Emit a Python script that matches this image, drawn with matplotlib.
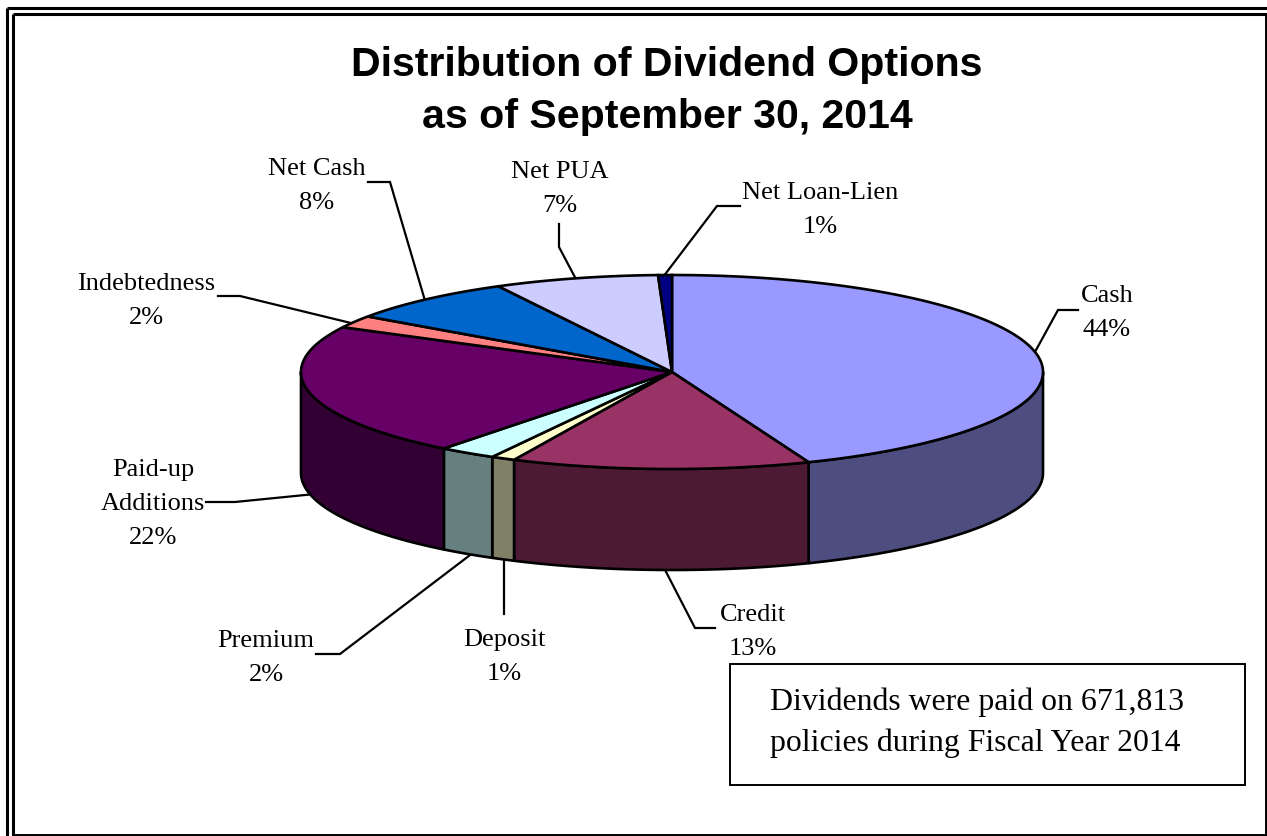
import matplotlib

matplotlib.use("Agg")
import matplotlib.pyplot as plt
from matplotlib.patches import Polygon, Rectangle
import numpy as np

W, H = 1267, 837

TITLE_LINES = ["Distribution of Dividend Options", "as of September 30, 2014"]
NOTE_LINES = ["Dividends were paid on 671,813", "policies during Fiscal Year 2014"]

categories = ["Cash", "Credit", "Deposit", "Premium", "Paid-up\nAdditions",
              "Indebtedness", "Net Cash", "Net PUA", "Net Loan-Lien"]
shares = [44.0, 13.0, 1.05, 2.49, 22.1, 2.06, 7.55, 7.15, 0.6]
colors = ["#9999FF", "#993366", "#FFFFCC", "#CCFFFF", "#660066",
          "#FF8080", "#0066CC", "#CCCCFF", "#000080"]
side_colors = ["#4D4D80", "#4D1A33", "#808066", "#668080", "#330033",
               "#804040", "#003366", "#666680", "#000040"]

# pie geometry in pixels
CX, CY = 672, 373
RX, RY = 371, 97
DEPTH = 101

label_xy = [(1107, 313), (753, 632), (504, 657), (266, 658), (153, 504),
            (146, 301), (317, 186), (560, 189), (820, 210)]
leaders = [
    [(1030, 362), (1058, 311), (1078, 311)],
    [(662, 565), (695, 629), (715, 629)],
    [(504, 560), (504, 615)],
    [(478, 550), (340, 655), (316, 655)],
    [(325, 494), (235, 503), (206, 503)],
    [(355, 325), (240, 297), (218, 297)],
    [(426, 305), (390, 183), (368, 183)],
    [(578, 284), (559, 248), (559, 225)],
    [(660, 282), (717, 207), (740, 207)],
]

LW = 1.9


def rim(start, end, dy=0):
    # points along the ellipse, angles in degrees clockwise from the top
    t = np.radians(np.linspace(start, end, max(int(abs(end - start) * 2), 2)))
    return np.column_stack([CX + RX * np.sin(t), CY - RY * np.cos(t) + dy])


fig = plt.figure(figsize=(W / 100, H / 100), dpi=100)
ax = fig.add_axes([0, 0, 1, 1])
ax.set_xlim(0, W)
ax.set_ylim(H, 0)
ax.axis("off")

# double page border, the right and bottom runs sit on the image edge
ax.plot([6.5, 6.5], [H, 9], [6.5, W], [9, 9], color="black", lw=2.2, solid_capstyle="butt")
ax.plot([12.5, 12.5], [H, 15], [12.5, W], [15, 15], color="black", lw=2.2, solid_capstyle="butt")
ax.plot([W - 0.8, W - 0.8], [15, H], color="black", lw=1.4)
ax.plot([12.5, W], [H - 0.8, H - 0.8], color="black", lw=1.4)

edges = np.concatenate([[0], np.cumsum(shares)]) * 3.6

# side wall first, only the part of the rim that faces the viewer
for i in range(len(shares)):
    start, end = max(edges[i], 90), min(edges[i + 1], 270)
    if start >= end:
        continue
    top = rim(start, end)
    bottom = rim(end, start, DEPTH)
    ax.add_patch(Polygon(np.vstack([top, bottom]), closed=True, facecolor=side_colors[i],
                         edgecolor="black", lw=LW, joinstyle="round", zorder=2))

# top face
for i in range(len(shares)):
    pts = np.vstack([[(CX, CY)], rim(edges[i], edges[i + 1])])
    ax.add_patch(Polygon(pts, closed=True, facecolor=colors[i], edgecolor="black",
                         lw=LW, joinstyle="miter", zorder=3))

for pts in leaders:
    xs, ys = zip(*pts)
    ax.plot(xs, ys, color="black", lw=1.6, solid_joinstyle="miter", zorder=1)

for name, share, (x, y) in zip(categories, shares, label_xy):
    ax.text(x, y, f"{name}\n{share:.0f}%", family="Liberation Serif", fontsize=19,
            ha="center", va="center", linespacing=1.72, color="black")

for line, y in zip(TITLE_LINES, [65, 117]):
    ax.text(667, y, line, family="Liberation Sans", fontsize=29.6, fontweight="bold",
            ha="center", va="center", color="black")

ax.add_patch(Rectangle((730, 665), 515, 121, facecolor="white", edgecolor="black", lw=1.4, zorder=4))
for line, y in zip(NOTE_LINES, [710, 751]):
    ax.text(770, y, line, family="Liberation Serif", fontsize=22.9, ha="left", va="baseline",
            color="black", zorder=5)

fig.savefig("out.png", dpi=100)
plt.close(fig)
